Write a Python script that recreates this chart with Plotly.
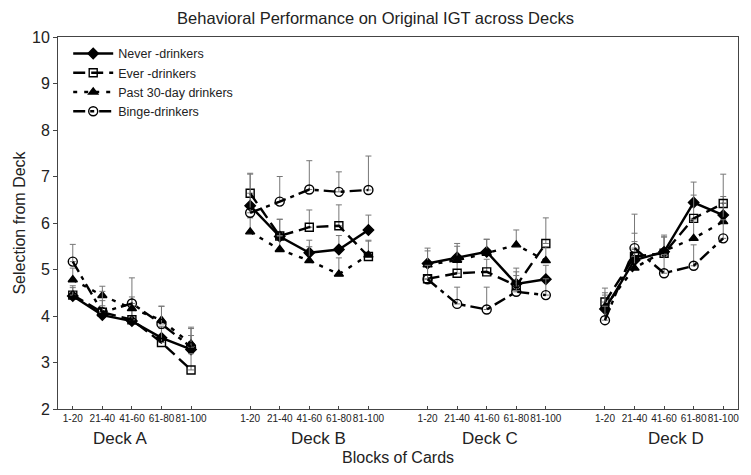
import plotly.graph_objects as go

# --- data ------------------------------------------------------------------
DECKS = ["Deck A", "Deck B", "Deck C", "Deck D"]
BLOCKS = ["1-20", "21-40", "41-60", "61-80", "81-100"]

never = [4.43, 4.02, 3.89, 3.53, 3.28,
         6.37, 5.71, 5.36, 5.43, 5.85,
         5.13, 5.26, 5.38, 4.69, 4.79,
         4.15, 5.20, 5.38, 6.44, 6.17]
never_err = [0.18, 0.20, 0.25, 0.25, 0.30,
             0.35, 0.37, 0.27, 0.30, 0.32,
             0.33, 0.30, 0.27, 0.34, 0.30,
             0.30, 0.40, 0.36, 0.44, 0.40]

ever = [4.45, 4.08, 3.92, 3.43, 2.84,
        6.64, 5.72, 5.91, 5.94, 5.28,
        4.80, 4.92, 4.95, 4.65, 5.56,
        4.30, 5.28, 5.35, 6.10, 6.42]
ever_err = [0.20, 0.25, 0.30, 0.30, 0.35,
            0.43, 0.36, 0.37, 0.45, 0.35,
            0.30, 0.30, 0.27, 0.30, 0.55,
            0.30, 0.50, 0.35, 0.50, 0.63]

past30 = [4.78, 4.44, 4.16, 3.91, 3.40,
          5.81, 5.43, 5.19, 4.90, 5.31,
          5.10, 5.20, 5.35, 5.53, 5.19,
          4.20, 5.03, 5.40, 5.67, 6.03]
past30_err = [0.25, 0.20, 0.25, 0.30, 0.36,
              0.30, 0.30, 0.30, 0.35, 0.30,
              0.30, 0.30, 0.30, 0.32, 0.30,
              0.30, 0.40, 0.30, 0.40, 0.40]

binge = [5.17, 4.08, 4.27, 3.83, 3.33,
         6.22, 6.46, 6.72, 6.67, 6.71,
         4.79, 4.26, 4.14, 4.52, 4.45,
         3.91, 5.46, 4.92, 5.08, 5.67]
binge_err = [0.37, 0.45, 0.55, 0.38, 0.40,
             0.83, 0.54, 0.62, 0.43, 0.73,
             0.30, 0.36, 0.48, 0.35, 0.35,
             0.30, 0.73, 0.40, 0.45, 0.40]

SERIES = [
    ("Never -drinkers", never, never_err, "diamond", "solid", 8),
    ("Ever -drinkers", ever, ever_err, "square-open", "12px,6px", 8),
    ("Past 30-day drinkers", past30, past30_err, "triangle-up", "4px,7px", 8),
    ("Binge-drinkers", binge, binge_err, "circle-open", "12px,5px,4px,5px", 9),
]

FONT = "Liberation Sans, Arial, sans-serif"
nb = len(BLOCKS)


def with_gaps(values, fill=None):
    # one empty slot between decks so the lines break
    out = []
    for d in range(len(DECKS)):
        out += list(values[d * nb:(d + 1) * nb])
        if d < len(DECKS) - 1:
            out.append(fill)
    return out


xpos = list(range(len(DECKS) * (nb + 1) - 1))
tickvals = [d * (nb + 1) + b for d in range(len(DECKS)) for b in range(nb)]
ticktext = BLOCKS * len(DECKS)

fig = go.Figure()
for name, vals, err, symbol, dash, msize in SERIES:
    fig.add_trace(go.Scatter(
        x=xpos,
        y=with_gaps(vals),
        name=name,
        mode="lines+markers",
        line=dict(color="black", width=2.4, dash=dash),
        marker=dict(symbol=symbol, size=msize, color="black", line=dict(color="black", width=1.4)),
        error_y=dict(type="data", symmetric=False, array=with_gaps(err, 0),
                     arrayminus=[0] * len(xpos), color="#777", thickness=1, width=3),
        connectgaps=False,
    ))

deck_label_x = [1.6, 8.3, 14.1, 20.4]
annotations = [
    dict(x=x, y=-0.078, xref="x", yref="paper", text=d, showarrow=False,
         font=dict(size=17, color="#222"), yanchor="middle")
    for x, d in zip(deck_label_x, DECKS)
]
annotations.append(dict(x=0.5, y=-0.13, xref="paper", yref="paper", text="Blocks of Cards",
                        showarrow=False, font=dict(size=16, color="#222"), yanchor="middle"))

fig.update_layout(
    width=751, height=475,
    margin=dict(l=58, r=13, t=37, b=66),
    paper_bgcolor="white", plot_bgcolor="white",
    font=dict(family=FONT, color="#222"),
    title=dict(text="Behavioral Performance on Original IGT across Decks",
               x=0.5, xanchor="center", y=0.962, yanchor="middle", font=dict(size=16.5)),
    legend=dict(x=0.015, y=0.995, xanchor="left", yanchor="top", font=dict(size=12.5),
                bgcolor="rgba(255,255,255,0)", tracegroupgap=0, itemwidth=40),
    annotations=annotations,
)
fig.update_xaxes(range=[-0.5, xpos[-1] + 0.5], tickvals=tickvals, ticktext=ticktext,
                 tickangle=0, tickfont=dict(size=10), showgrid=False, zeroline=False,
                 showline=True, linecolor="#444", mirror=True, ticks="inside",
                 ticklen=3, tickcolor="#444", automargin=False)
fig.update_yaxes(range=[2, 10], dtick=1, tickfont=dict(size=16), showgrid=False,
                 zeroline=False, showline=True, linecolor="#444", mirror=True,
                 ticks="outside", ticklen=4, tickcolor="#444", automargin=False,
                 title=dict(text="Selection from Deck", font=dict(size=16), standoff=2))

# drop the browser's default body margin so the figure sits at the window corner
fig.write_html("out.html", config={"displayModeBar": False},
               post_script="document.body.style.margin='0';")
